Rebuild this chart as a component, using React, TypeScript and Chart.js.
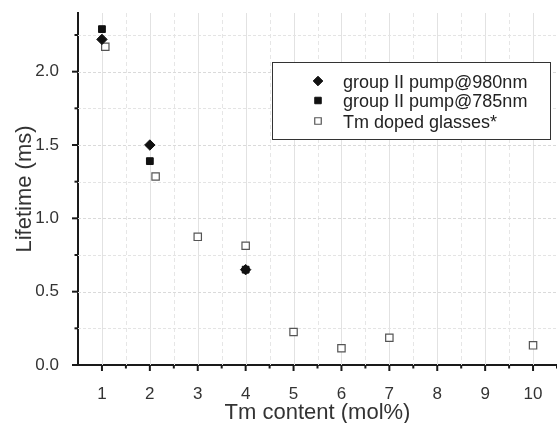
import React, { useEffect, useRef } from "react";
import { Chart, registerables } from "chart.js";

Chart.register(...registerables);

const seriesLabels = ["group II pump@980nm", "group II pump@785nm", "Tm doped glasses*"];

const pump980X = [1, 2, 4];
const pump980Y = [2.22, 1.5, 0.65];

const pump785X = [1, 2, 4];
const pump785Y = [2.29, 1.39, 0.65];

const glassesX = [1.07, 2.12, 3, 4, 5, 6, 7, 10];
const glassesY = [2.17, 1.285, 0.874, 0.813, 0.225, 0.114, 0.186, 0.134];

const xTitle = "Tm content (mol%)";
const yTitle = "Lifetime (ms)";

const FONT = "'Liberation Sans', Arial, sans-serif";

const toPoints = (xs: number[], ys: number[]) => xs.map((x, i) => ({ x, y: ys[i] }));

const isMult = (v: number, step: number) => Math.abs(v / step - Math.round(v / step)) < 1e-6;

function drawMarker(ctx: CanvasRenderingContext2D, style: string, x: number, y: number, r: number, fill: string, stroke: string, bw: number) {
  ctx.save();
  ctx.beginPath();
  if (style === "rectRot") {
    ctx.moveTo(x - r, y);
    ctx.lineTo(x, y - r);
    ctx.lineTo(x + r, y);
    ctx.lineTo(x, y + r);
    ctx.closePath();
  } else {
    const s = Math.SQRT1_2 * r;
    ctx.rect(x - s, y - s, 2 * s, 2 * s);
  }
  ctx.fillStyle = fill;
  ctx.fill();
  ctx.lineWidth = bw;
  ctx.strokeStyle = stroke;
  ctx.stroke();
  ctx.restore();
}

const gridPlugin = {
  id: "customGrid",
  afterLayout(chart: any) {
    const xs = chart.scales.x;
    const W = chart.width;
    xs.right = W;
    xs.width = W - xs.left;
    xs.configure();
    chart.chartArea.right = W;
    chart.chartArea.width = W - chart.chartArea.left;
  },
  beforeDatasetsDraw(chart: any) {
    const { ctx, chartArea, scales } = chart;
    const xs = scales.x;
    const ys = scales.y;
    ctx.save();
    for (let v = xs.min; v <= xs.max + 1e-6; v += 0.5) {
      const px = Math.round(xs.getPixelForValue(v)) + 0.5;
      if (px <= chartArea.left + 2) continue;
      ctx.beginPath();
      if (isMult(v, 1)) {
        ctx.setLineDash([]);
        ctx.strokeStyle = "#e2e2e2";
      } else {
        ctx.setLineDash([4, 3]);
        ctx.strokeStyle = "#e6e6e6";
      }
      ctx.lineWidth = 1;
      ctx.moveTo(px, chartArea.top);
      ctx.lineTo(px, chartArea.bottom);
      ctx.stroke();
    }
    for (let v = 0.25; v < ys.max - 1e-6; v += 0.25) {
      const py = Math.round(ys.getPixelForValue(v)) + 0.5;
      ctx.beginPath();
      ctx.setLineDash([3, 2]);
      ctx.strokeStyle = isMult(v, 0.5) ? "#dadada" : "#e4e4e4";
      ctx.lineWidth = 1;
      ctx.moveTo(chartArea.left, py);
      ctx.lineTo(chartArea.right, py);
      ctx.stroke();
    }
    ctx.restore();
  },
  afterDraw(chart: any) {
    const { ctx, chartArea, scales } = chart;
    const xs = scales.x;
    const ys = scales.y;
    ctx.save();
    ctx.strokeStyle = "#1a1a1a";
    ctx.lineWidth = 2;
    ctx.setLineDash([]);
    for (let v = xs.min + 0.5; v <= xs.max + 1e-6; v += 0.5) {
      const px = xs.getPixelForValue(v);
      const len = isMult(v, 1) ? 6 : 3.5;
      ctx.beginPath();
      ctx.moveTo(px, chartArea.bottom);
      ctx.lineTo(px, chartArea.bottom + len);
      ctx.stroke();
    }
    for (let v = 0; v < ys.max - 1e-6; v += 0.25) {
      const py = ys.getPixelForValue(v);
      const len = isMult(v, 0.5) ? 6 : 3.5;
      ctx.beginPath();
      ctx.moveTo(chartArea.left, py);
      ctx.lineTo(chartArea.left - len, py);
      ctx.stroke();
    }
    const bx = 272.5, by = 62.5, bw = 278, bh = 77;
    ctx.lineWidth = 1;
    ctx.strokeStyle = "#333";
    ctx.fillStyle = "#fff";
    ctx.fillRect(bx, by, bw, bh);
    ctx.strokeRect(bx, by, bw, bh);
    const rows = [81, 100.5, 121];
    chart.data.datasets.forEach((ds: any, i: number) => {
      const y = rows[i];
      drawMarker(ctx, ds.pointStyle, 318, y, ds.pointStyle === "rectRot" ? 4.8 : 4.6, ds.backgroundColor, ds.borderColor, ds.borderWidth);
      ctx.fillStyle = "#222";
      ctx.font = `18px ${FONT}`;
      ctx.textBaseline = "alphabetic";
      ctx.textAlign = "left";
      ctx.fillText(ds.label, 343, y + 6.5);
    });
    ctx.restore();
  },
};

export default function App() {
  const ref = useRef<HTMLCanvasElement | null>(null);

  useEffect(() => {
    document.body.style.margin = "0";
    const canvas = ref.current;
    if (!canvas) return;
    const chart = new Chart(canvas, {
      type: "scatter",
      data: {
        datasets: [
          {
            label: seriesLabels[0],
            data: toPoints(pump980X, pump980Y),
            pointStyle: "rectRot",
            pointRadius: 5.2,
            backgroundColor: "#111",
            borderColor: "#111",
            borderWidth: 1,
          },
          {
            label: seriesLabels[1],
            data: toPoints(pump785X, pump785Y),
            pointStyle: "rect",
            pointRadius: 4.8,
            backgroundColor: "#111",
            borderColor: "#111",
            borderWidth: 1,
          },
          {
            label: seriesLabels[2],
            data: toPoints(glassesX, glassesY),
            pointStyle: "rect",
            pointRadius: 5.2,
            backgroundColor: "#fff",
            borderColor: "#555",
            borderWidth: 1.2,
          },
        ],
      },
      options: {
        responsive: false,
        animation: false,
        devicePixelRatio: 1,
        layout: { padding: { top: 13, right: 0, left: 0, bottom: 0 } },
        plugins: { legend: { display: false }, tooltip: { enabled: false } },
        scales: {
          x: {
            type: "linear",
            min: 0.5,
            max: 10.5,
            afterFit: (s: any) => {
              s.height = 58;
              s.paddingLeft = 0;
              s.paddingRight = 0;
            },
            grid: { display: false },
            border: { display: true, color: "#1a1a1a", width: 2 },
            ticks: {
              stepSize: 0.5,
              autoSkip: false,
              maxRotation: 0,
              padding: 11,
              color: "#333",
              font: { family: FONT, size: 17 },
              callback: (v: any) => (isMult(Number(v), 1) && Number(v) > 0.5 ? String(Math.round(Number(v))) : ""),
            },
            title: {
              display: true,
              text: xTitle,
              color: "#333",
              font: { family: FONT, size: 22 },
              padding: { top: 0, bottom: -3 },
            },
          },
          y: {
            type: "linear",
            min: 0,
            max: 2.4,
            afterFit: (s: any) => {
              s.width = 78;
              s.paddingTop = 0;
              s.paddingBottom = 0;
            },
            grid: { display: false },
            border: { display: true, color: "#1a1a1a", width: 2 },
            ticks: {
              stepSize: 0.25,
              autoSkip: false,
              padding: 11,
              color: "#333",
              font: { family: FONT, size: 17 },
              callback: (v: any) => (isMult(Number(v), 0.5) ? Number(v).toFixed(1) : ""),
            },
            title: {
              display: true,
              text: yTitle,
              color: "#333",
              font: { family: FONT, size: 22 },
              padding: { top: 12, bottom: 0 },
            },
          },
        },
      },
      plugins: [gridPlugin],
    });
    return () => chart.destroy();
  }, []);

  return (
    <div style={{ position: "absolute", left: 0, top: 0, width: 557, height: 423, background: "#fff" }}>
      <canvas ref={ref} width={557} height={423} />
    </div>
  );
}
